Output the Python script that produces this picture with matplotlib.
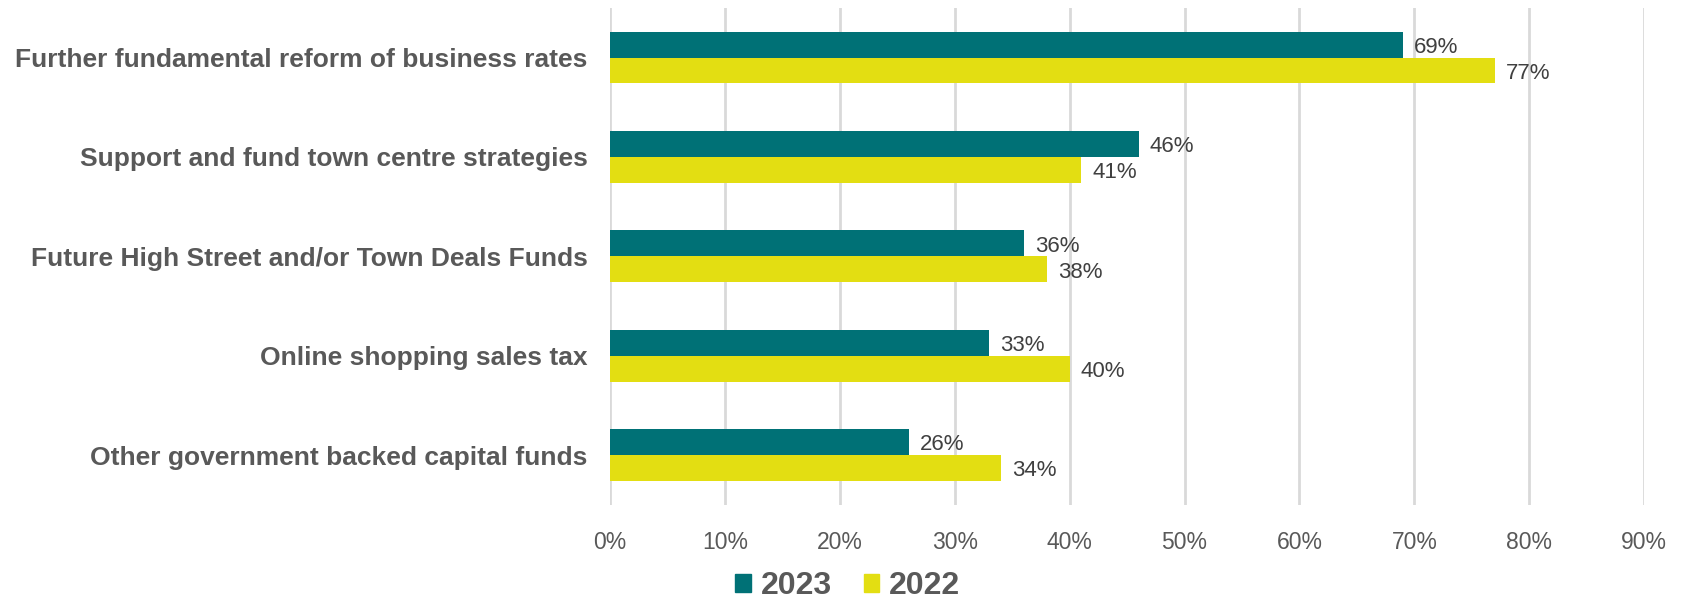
import matplotlib.pyplot as plt
import numpy as np
from matplotlib.patches import Patch
from matplotlib.ticker import FuncFormatter, MultipleLocator

categories = [
    "Further fundamental reform of business rates",
    "Support and fund town centre strategies",
    "Future High Street and/or Town Deals Funds",
    "Online shopping sales tax",
    "Other government backed capital funds",
]
values_2023 = [69, 46, 36, 33, 26]
values_2022 = [77, 41, 38, 40, 34]
series_names = ["2023", "2022"]

TEAL = "#007176"
YELLOW = "#E3DE12"
TEXT = "#595959"

plt.rcParams["font.family"] = ["Liberation Sans", "DejaVu Sans"]

fig = plt.figure(figsize=(16.85, 6.06), dpi=100)
ax = fig.add_axes([0.362, 0.167, 0.6138, 0.82])

y = np.arange(len(categories))
h = 0.26
bars_a = ax.barh(y - h / 2, values_2023, height=h, color=TEAL, zorder=3)
bars_b = ax.barh(y + h / 2, values_2022, height=h, color=YELLOW, zorder=3)

for bars in (bars_a, bars_b):
    for b in bars:
        w = b.get_width()
        ax.annotate(f"{w:.0f}%", (w, b.get_y() + b.get_height() / 2),
                    xytext=(8, -2), textcoords="offset points",
                    va="center", ha="left", fontsize=16, color="#404040")

ax.set_xlim(0, 90)
ax.set_ylim(len(categories) - 0.5, -0.5)
ax.xaxis.set_major_locator(MultipleLocator(10))
ax.xaxis.set_major_formatter(FuncFormatter(lambda v, _: f"{v:.0f}%"))
ax.set_yticks(y)
ax.set_yticklabels(categories, fontsize=19, fontweight="bold", color=TEXT)
ax.tick_params(axis="x", labelsize=16.5, labelcolor=TEXT, length=0, pad=19)
ax.tick_params(axis="y", length=0, pad=16)
ax.grid(axis="x", color="#D9D9D9", linewidth=2, zorder=0)
for s in ax.spines.values():
    s.set_visible(False)

handles = [Patch(color=TEAL), Patch(color=YELLOW)]
leg = fig.legend(handles, series_names, loc="lower center", ncol=2,
                 bbox_to_anchor=(0.503, -0.04), frameon=False,
                 prop={"size": 23, "weight": "bold"},
                 handlelength=0.5, handleheight=0.5, handletextpad=0.3,
                 columnspacing=1.0)
for t in leg.get_texts():
    t.set_color(TEXT)

fig.savefig("out.png", dpi=100)
